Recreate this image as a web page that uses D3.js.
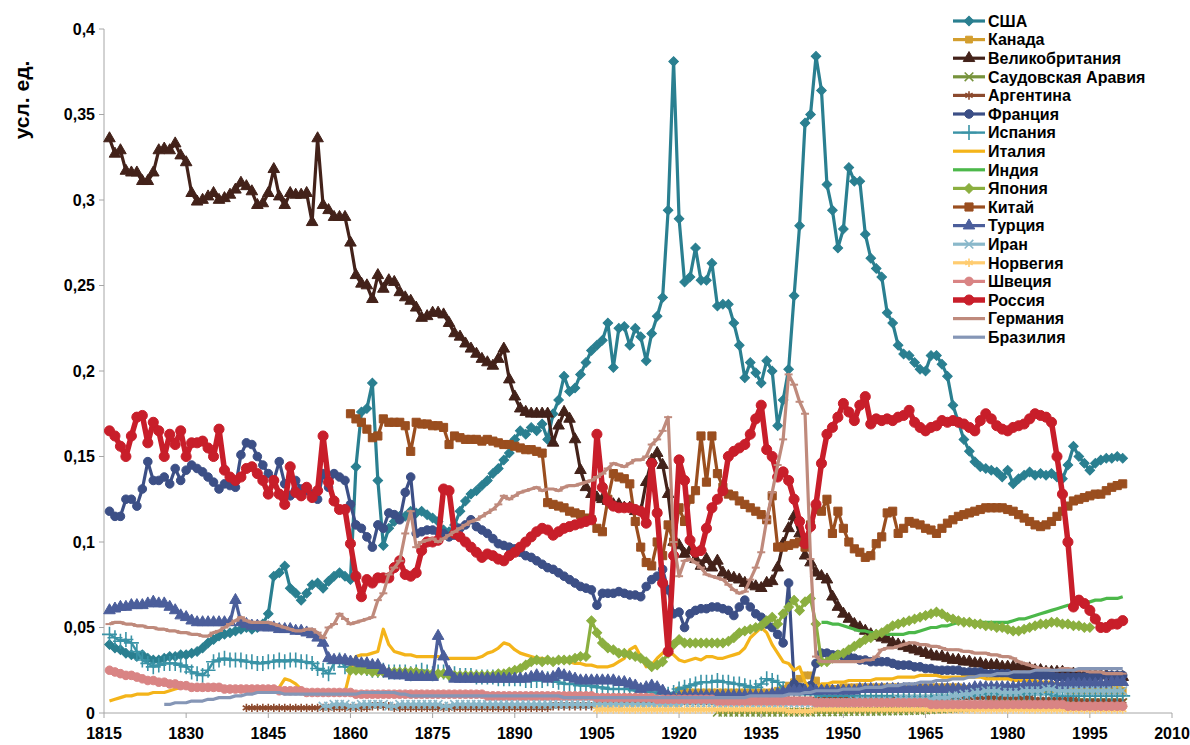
<!DOCTYPE html>
<html>
<head>
<meta charset="utf-8">
<title>chart</title>
<script src="https://d3js.org/d3.v7.min.js"></script>
<style>
  body { margin: 0; background: #fff; }
  svg text { font-family: "Liberation Sans", Arial, sans-serif; font-weight: bold; fill: #000; }
</style>
</head>
<body>
<div id="chart"></div>
<script>
// all values are in thousandths of a unit, one value per year from the start year
var usa = [40,38,37,35,34,33,34,32,31,31, 32,33,33,34,34,35,36,38,41,43, 45,46,47,48,49,50,49,50,52,58,
  80,82,86,73,70,66,70,75,76,73, 77,80,82,80,78,144,176,178,193,136, 98,108,112,115,115,118,117,118,116,114,
  112,107,106,110,118,124,128,130,133,136, 140,143,148,152,160,165,163,167,165,169, 160,175,183,197,188,190,198,205,212,215,
  218,228,202,225,226,215,225,220,206,222, 232,243,294,381,289,252,255,272,253,253, 263,238,239,239,228,215,196,205,199,193,
  206,200,168,183,201,244,285,345,350,384, 364,309,294,272,283,319,311,311,280,266, 260,255,234,228,215,210,209,205,201,200,
  209,209,204,197,180,170,160,153,147,144, 143,142,141,138,142,134,137,139,141,139, 140,139,140,138,137,145,156,150,146,142,
  146,148,149,149,150,149];
var canada = [13,13,12,12,12,12,12,12,12,12, 12,12,12,12,12,12,12,12,13,14, 16,18,20,22,22,19,15,14,14,14,
  15,15,15,15,15,15,15,15,15,15, 15,15,15,15,15,15,15,15,15,15, 15,15,14,14,14,14,14,14,14,14,
  14,14,14,14,14,14,14,14,14,14, 14,13,13,13,13,13,13,13,13,13, 13,13];
var uk = [336,327,329,317,316,316,311,311,316,329, 330,329,333,326,322,304,299,300,302,304, 300,301,303,306,310,308,305,297,298,304,
  318,302,297,304,303,303,304,287,336,297, 294,290,290,290,275,256,251,250,242,256, 248,253,252,246,243,241,237,231,232,234,
  234,233,228,222,220,216,213,210,207,205, 203,207,213,195,185,178,176,175,175,175, 175,158,168,176,172,160,142,132,128,126,
  125,124,122,122,120,120,118,118,135,148, 152,145,128,100,98,93,95,90,86,90, 85,89,82,80,79,78,76,75,74,73,
  76,77,85,99,108,115,105,92,88,82, 80,78,68,62,58,55,52,50,48,46, 45,44,43,41,40,39,38,37,36,35,
  34,33,33,32,31,31,30,30,29,29, 28,28,28,27,27,27,27,26,26,25, 25,24,24,24,24,23,23,22,22,22,
  22,22,22,21,21,21];
var saudi = [0.5,0.5,0.5,0.5,0.5,0.5,0.5,0.5,0.5,0.5, 0.5,0.5,0.5,0.5,0.5,0.5,0.5,0.5,0.6,0.6,
  0.7,0.7,0.8,0.8,0.9,0.9,1,1,1,1, 1.1,1.1,1.2,1.2,1.3,1.4,1.5,1.6,1.8,2, 2.2,2.4,2.6,2.8,3,3.2,3.4,3.8,4.2,4.6,
  5,5.2,5.4,5.6,5.8,6,6,6,6,6, 6,6,6,6,6.2,6.2,6,6,6,6, 6,6,6,6,6];
var argentina = [3,3,3,3,3,3,3,3,3,3, 3,3,3,3,3,3,3,3,3,3, 3,3,3,4,4,4,4,3,3,3, 3,3,3,3,3,3,3,3,3,3,
  3,3,3,3,3,3,3,3,3,3, 3,3,3,3,3,3,4,4,4,4, 4,4,4,4,5,5,5,5,5,6, 6,6,6,6,6,6,6,6,6,6,
  7,7,7,7,7,7,7,7,7,7, 7,7,7,7,7,7,7,7,8,8, 8,8,8,8,8,8,9,9,9,9, 9,9,9,9,9,9,9,9,9,9,
  9,9,9,9,9,9,9,9,9,9, 9,9,9,9,9,9,9,9,9,9, 9,9,9,9,8,8,8,8,8,8, 8,8,7,7,7,7,7,7,7,7, 7];
var france = [118,115,115,125,125,121,131,147,136,136, 138,134,143,136,142,145,143,141,138,135, 131,134,133,132,151,158,157,150,145,140,
  136,147,134,127,136,131,130,128,125,140, 132,140,138,136,122,110,108,103,97,110, 108,117,116,113,129,138,105,106,107,107,
  106,105,103,104,108,110,113,109,107,105, 102,99,98,97,96,94,92,91,89,87, 85,84,82,80,78,76,74,73,72,63,
  70,70,70,71,70,69,69,68,74,78, 80,84,72,58,59,50,58,60,61,61, 62,62,61,60,57,62,66,62,58,56,
  52,50,46,41,76,17,15,15,16,29, 35,35,34,34,33,33,32,31,31,30, 30,30,30,29,28,28,28,27,27,26,
  26,25,25,25,25,25,24,24,24,24, 23,23,23,23,23,22,22,22,22,22, 22,22,22,21,21,21,21,21,21,21,
  21,22,22,22,22,22];
var spain = [46,44,42,43,41,36,31,29,27,28, 29,29,29,28,27,24,23,22,25,30, 31,32,31,31,31,30,30,29,29,30,
  30,31,30,31,31,30,30,29,26,25, 23,29,31,27,27,28,27,26,25,25, 25,24,24,24,24,23,24,25,24,23,
  24,24,23,23,22,22,22,21,21,21, 21,20,20,20,20,20,19,19,19,19, 20,19,18,17,17,17,16,16,16,15,
  15,14,14,14,14,14,13,13,13,12, 12,11,11,12,14,15,16,17,18,18, 18,19,18,18,17,17,16,15,15,17,
  20,19,18,14,12,11,11,11,11,11, 10,10,10,10,10,10,10,10,10,10, 10,10,10,10,10,10,10,10,10,10,
  10,10,10,10,10,10,10,10,11,11, 11,11,11,11,11,11,11,11,11,11, 11,11,11,10,10,10,10,10,10,10,
  10,10,10,10,10,10];
var italy = [7,8,9,10,10,11,11,11,12,12, 12,13,14,15,16,15,15,15,15,15, 15,14,14,14,14,14,14,14,14,14,
  14,15,20,19,17,14,12,12,12,12, 12,12,12,12,25,33,34,34,35,36, 49,40,36,35,34,34,33,33,33,33,
  33,32,32,32,32,32,32,32,33,35, 36,38,41,40,37,35,34,33,32,32, 31,31,31,30,30,29,29,28,28,27,
  27,27,28,30,32,37,39,33,27,28, 32,35,36,34,31,30,31,32,31,33, 33,32,32,33,34,35,38,44,47,50,
  47,40,35,30,29,25,27,18,13,14, 17,17,18,18,18,19,19,19,19,19, 20,20,20,20,21,21,21,21,22,22,
  22,22,21,21,21,21,21,21,21,21, 20,20,20,20,20,19,19,19,19,19, 18,18,18,17,17,17,17,17,17,16,
  16,16,16,16,16,16];
var india = [53,53,52,52,51,50,49,48,48,47, 47,47,46,46,46,46,47,47,48,49, 50,50,51,51,52,53,53,53,53,53,
  53,53,53,53,53,54,55,55,56,57, 58,59,60,61,62,63,63,64,65,65, 66,66,67,67,67,68];
var japan = [25,25,25,25,24,24,24,24,24,24, 24,24,24,23,23,23,23,23,22,22, 22,22,22,22,22,22,22,23,23,24,
  25,26,28,30,31,30,31,30,31,31, 31,32,33,33,54,47,41,38,37,35, 35,34,33,32,30,27,28,30,35,40,
  43,41,41,41,41,41,41,41,41,42, 44,47,48,49,50,51,54,56,52,58, 62,66,60,65,67,52,30,30,32,34,
  35,37,39,41,43,44,46,47,49,51, 52,53,54,55,56,57,58,59,58,56, 55,54,53,53,52,52,51,51,50,50,
  49,48,48,49,50,51,52,52,53,53, 52,52,51,51,50,50];
var china = [175,172,170,166,161,162,172,170,170,170, 168,153,170,169,169,168,168,167,157,162,
  161,160,160,160,159,160,159,158,157,157, 156,155,154,154,153,152,123,122,121,120,
  118,117,116,114,113,108,106,125,140,138, 137,134,112,97,88,86,100,92,110,100,
  120,112,125,130,162,135,162,140,132,128, 127,124,122,120,118,116,113,127,97,97,
  98,99,100,97,110,119,118,125,105,118, 108,100,96,94,91,92,99,103,117,118,
  105,108,112,111,110,108,107,105,108,111, 113,115,116,117,118,119,120,120,120,120,
  119,118,116,114,112,110,109,110,112,115, 118,121,124,125,126,127,128,128,130,132, 133,134];
var turkey = [60,61,62,62,63,63,63,64,65,64, 64,62,60,57,56,54,53,53,53,53, 53,53,53,66,53,52,51,51,50,50,
  50,49,49,49,48,48,47,46,44,41, 32,31,31,31,30,30,29,29,28,28, 25,23,22,22,22,21,21,21,21,21,
  45,33,24,20,20,20,20,20,20,20, 20,20,20,20,20,20,20,21,22,21, 20,21,23,22,21,20,19,19,19,19,
  19,19,19,18,18,17,16,14,15,16, 15,13,10,9,9,10,10,10,10,10, 10,10,10,10,10,10,10,10,10,10,
  10,11,11,12,13,13,13,13,13,13, 13,13,13,13,13,13,13,14,14,14, 14,14,14,14,14,14,14,14,14,14,
  14,14,14,14,14,14,14,14,15,15, 15,15,15,15,15,15,15,16,16,16, 16,16,16,16,16,17,17,17,17,17,
  17,17,17,18,18,18];
var iran = [4,4,5,5,5,4,4,5,5,5, 5,5,4,4,5,5,5,5,5,5, 5,5,4,4,5,5,5,5,5,5, 5,5,5,5,5,5,5,5,5,5,
  5,5,5,5,5,5,5,5,5,5, 5,5,5,5,5,5,5,5,5,5, 5,5,5,5,5,5,6,6,6,6, 6,6,6,6,6,6,6,6,6,6,
  6,6,6,6,6,6,6,6,6,6, 6,6,6,6,6,6,6,7,7,7, 7,7,7,7,7,8,8,8,8,8, 8,8,9,9,9,10,10,11,11,12,
  12,13,13,13,12,12,12,12,13,13, 13,13,14,14,13,13,13,13,13,13, 13,13,13,13,13,13,13];
var norway = [2,2,2,2,2,2,2,2,2,2, 2,2,2,2,2,2,2,2,2,2, 2,2,2,2,2,2,2,2,2,2, 2,2,2,2,2,1,1,1,1,1,
  2,2,2,2,2,2,2,2,2,2, 2,2,2,2,2,2,2,2,2,2, 2,2,2,2,2,2,2,2,2,2, 2,2,2,2,2,2,2,2,2,2,
  2,2,2,2,2,2,2,2,2,2, 2,2,2,2,2,2,2];
var sweden = [25,24,23,22,22,21,20,19,19,18, 18,17,17,16,16,15,15,15,15,15, 15,14,14,14,14,14,14,14,14,14,
  14,13,13,13,13,13,12,12,12,12, 12,12,12,12,12,11,11,11,11,11, 11,11,11,11,11,11,11,11,11,11,
  11,11,11,11,11,11,11,11,11,10, 10,10,10,10,10,10,10,10,10,10, 10,10,10,10,10,10,10,10,10,9,
  9,9,9,9,9,9,9,9,9,9, 8,8,8,8,8,8,8,8,8,8, 8,7,7,7,7,7,7,7,7,7,
  7,7,7,7,7,7,7,7,7,6, 6,6,6,6,6,6,6,6,6,6, 6,6,6,6,6,6,6,6,6,6,
  5,5,5,5,5,5,5,5,5,5, 5,5,5,5,5,5,5,5,5,5, 5,5,5,5,5,4,4,4,4,4,
  4,4,4,4,4,4];
var russia = [165,162,156,150,162,173,174,158,170,165, 150,163,157,165,150,158,158,159,155,150,
  166,142,138,136,138,143,144,140,136,128, 136,128,122,144,129,127,132,126,130,162,
  135,124,119,119,99,80,68,78,76,79, 79,79,85,89,81,80,82,95,100,100,
  101,131,130,105,103,100,97,94,91,93, 92,90,89,92,94,97,100,103,106,108,
  107,104,106,108,109,110,111,112,113,163, 132,124,121,120,120,120,119,118,111,146,
  117,76,36,92,148,136,101,94,95,108, 120,125,130,150,153,155,157,163,172,180,
  154,150,138,141,136,125,112,99,109,122, 146,163,167,173,181,176,171,180,185,169,
  172,171,172,171,173,174,177,170,167,165, 167,168,171,170,171,170,169,167,165,171,
  175,172,168,166,165,167,168,169,172,175, 174,173,170,150,128,100,62,66,64,60,
  55,50,50,52,52,54];
var germany = [52,53,53,52,52,51,51,50,50,49, 49,48,48,47,47,46,46,45,45,47, 48,50,52,54,56,54,53,53,53,53,
  52,51,50,49,48,48,49,49,47,44, 50,52,58,55,52,53,54,55,56,66, 70,81,85,89,105,118,97,100,101,102,
  100,102,104,106,108,110,112,113,115,117, 119,122,127,125,127,129,130,131,132,130, 131,131,130,132,133,133,134,135,136,138,
  140,143,146,145,144,146,148,148,150,157, 160,165,173,100,80,89,90,88,85,81, 80,79,78,75,72,70,71,78,85,94,
  113,129,145,160,198,192,182,175,90,33, 30,30,30,30,30,30,30,30,31,31, 33,37,38,38,39,40,41,41,40,40,
  39,39,38,37,37,37,36,36,35,35, 35,34,34,33,33,32,30,29,28,27, 26,26,25,25,26,26,25,25,25,24,
  24,24,23,23,23,23];
var brazil = [5,5,6,6,6,7,7,7,8,8, 9,9,9,10,10,11,11,12,12,12, 12,12,11,11,11,11,11,11,11,11,
  11,11,11,11,11,11,12,12,12,12, 12,12,12,11,11,10,10,10,10,10, 10,10,10,10,10,10,10,10,10,10,
  10,10,10,10,10,10,10,10,10,10, 10,10,10,9,9,9,9,9,9,9, 9,9,9,9,9,9,9,9,9,9,
  9,9,9,9,9,9,9,9,9,9, 9,9,9,9,9,9,9,10,10,10, 10,10,10,10,11,11,11,12,12,13,
  13,13,13,13,14,14,14,14,15,15, 15,15,16,16,16,17,17,17,18,18, 18,19,19,19,20,20,20,21,21,22,
  22,22,23,23,23,24,24,24,24,25, 25,25,25,25,25,25,25,26,26,26, 26,26,26,26,26,26];

var xTicks = [1815, 1830, 1845, 1860, 1875, 1890, 1905, 1920, 1935, 1950, 1965, 1980, 1995, 2010];
var yTicks = [0, 0.05, 0.1, 0.15, 0.2, 0.25, 0.3, 0.35, 0.4];

var series = [
  {name: "США", start: 1816, values: usa, color: "#2A7F90", shape: "diamond", size: 46, width: 3.2},
  {name: "Канада", start: 1920, values: canada, color: "#D39E2E", shape: "square", size: 46, width: 3.2},
  {name: "Великобритания", start: 1816, values: uk, color: "#43221A", shape: "triangle", size: 58, width: 3.2},
  {name: "Саудовская Аравия", start: 1927, values: saudi, color: "#77933C", shape: "times", size: 50, width: 3.2},
  {name: "Аргентина", start: 1841, values: argentina, color: "#8C4A2E", shape: "asterisk", size: 50, width: 3.2},
  {name: "Франция", start: 1816, values: france, color: "#3C4F86", shape: "circle", size: 58, width: 3.2},
  {name: "Испания", start: 1816, values: spain, color: "#3A93A6", shape: "plus", size: 75, width: 2.4},
  {name: "Италия", start: 1816, values: italy, color: "#F4B41A", shape: null, width: 3.2},
  {name: "Индия", start: 1946, values: india, color: "#4CB84A", shape: null, width: 3.2},
  {name: "Япония", start: 1860, values: japan, color: "#8BAF3F", shape: "diamond", size: 46, width: 3.2},
  {name: "Китай", start: 1860, values: china, color: "#9A4E1F", shape: "square", size: 66, width: 3.2},
  {name: "Турция", start: 1816, values: turkey, color: "#4B5E9B", shape: "triangle", size: 58, width: 3.2},
  {name: "Иран", start: 1855, values: iran, color: "#8AB8CA", shape: "times", size: 50, width: 3.2},
  {name: "Норвегия", start: 1905, values: norway, color: "#FFCC70", shape: "asterisk", size: 50, width: 3.2},
  {name: "Швеция", start: 1816, values: sweden, color: "#D98484", shape: "circle", size: 58, width: 3.2},
  {name: "Россия", start: 1816, values: russia, color: "#C81E2A", shape: "circle", size: 80, width: 5.5},
  {name: "Германия", start: 1816, values: germany, color: "#BF8A7C", shape: "dash", size: 8, width: 3.2},
  {name: "Бразилия", start: 1826, values: brazil, color: "#8596B6", shape: null, width: 3.2}
];

var width = 1190, height = 745;

var svg = d3.select("#chart").append("svg")
  .attr("width", width)
  .attr("height", height);

var x = d3.scaleLinear().domain([1815, 2010]).range([104, 1172]);
var y = d3.scaleLinear().domain([0, 0.4]).range([713, 29]);

var symbols = {
  diamond: d3.symbolSquare,
  square: d3.symbolSquare,
  triangle: d3.symbolTriangle,
  circle: d3.symbolCircle,
  times: d3.symbolTimes || d3.symbolX || d3.symbolCross,
  asterisk: d3.symbolAsterisk || d3.symbolStar,
  plus: d3.symbolPlus || d3.symbolCross
};
var strokeOnly = {times: true, asterisk: true, plus: true};

function drawMarker(g, s, px, py) {
  if (s.shape == "dash") {
    g.append("line")
      .attr("x1", px - s.size / 2).attr("x2", px + s.size / 2)
      .attr("y1", py).attr("y2", py)
      .attr("stroke", s.color).attr("stroke-width", 2);
    return;
  }
  var m = g.append("path")
    .attr("d", d3.symbol().type(symbols[s.shape]).size(s.size)())
    .attr("transform", "translate(" + px + "," + py + ")" + (s.shape == "diamond" ? " rotate(45)" : ""));
  if (strokeOnly[s.shape]) {
    m.attr("fill", "none").attr("stroke", s.color).attr("stroke-width", 1.6);
  } else {
    m.attr("fill", s.color).attr("stroke", s.color).attr("stroke-width", 1);
  }
}

// axes
svg.append("line")
  .attr("x1", x(1815)).attr("x2", x(1815))
  .attr("y1", y(0)).attr("y2", y(0.4))
  .attr("stroke", "#A6A6A6");
svg.append("line")
  .attr("x1", x(1815)).attr("x2", x(2010))
  .attr("y1", y(0)).attr("y2", y(0))
  .attr("stroke", "#A6A6A6");

svg.selectAll(".ytick").data(yTicks).enter().append("line")
  .attr("x1", x(1815) - 5).attr("x2", x(1815))
  .attr("y1", function(d) { return y(d); })
  .attr("y2", function(d) { return y(d); })
  .attr("stroke", "#A6A6A6");
svg.selectAll(".ylab").data(yTicks).enter().append("text")
  .attr("x", x(1815) - 9)
  .attr("y", function(d) { return y(d); })
  .attr("dy", "0.35em")
  .attr("text-anchor", "end")
  .style("font-size", "16px")
  .text(function(d) { return String(d).replace(".", ","); });

svg.selectAll(".xtick").data(xTicks).enter().append("line")
  .attr("x1", function(d) { return x(d); })
  .attr("x2", function(d) { return x(d); })
  .attr("y1", y(0)).attr("y2", y(0) + 5)
  .attr("stroke", "#A6A6A6");
svg.selectAll(".xlab").data(xTicks).enter().append("text")
  .attr("x", function(d) { return x(d); })
  .attr("y", 739)
  .attr("text-anchor", "middle")
  .style("font-size", "16px")
  .text(function(d) { return d; });

svg.append("text")
  .attr("transform", "translate(29,100) rotate(-90)")
  .attr("text-anchor", "middle")
  .style("font-size", "21px")
  .text("усл. ед.");

// series, drawn in legend order so later ones sit on top
var line = d3.line()
  .x(function(d) { return x(d.year); })
  .y(function(d) { return y(d.v); });

series.forEach(function(s) {
  var pts = s.values.map(function(v, i) { return {year: s.start + i, v: v / 1000}; });
  var g = svg.append("g");
  g.append("path")
    .datum(pts)
    .attr("d", line)
    .attr("fill", "none")
    .attr("stroke", s.color)
    .attr("stroke-width", s.width)
    .attr("stroke-linejoin", "round");
  if (s.shape) {
    pts.forEach(function(p) { drawMarker(g, s, x(p.year), y(p.v)); });
  }
});

// legend
var legend = svg.append("g");
series.forEach(function(s, i) {
  var ly = 21 + i * 18.6;
  legend.append("line")
    .attr("x1", 953).attr("x2", 985)
    .attr("y1", ly).attr("y2", ly)
    .attr("stroke", s.color)
    .attr("stroke-width", s.width);
  if (s.shape) drawMarker(legend, s, 969, ly);
  legend.append("text")
    .attr("x", 988)
    .attr("y", ly)
    .attr("dy", "0.36em")
    .style("font-size", "16px")
    .text(s.name);
});
</script>
</body>
</html>
